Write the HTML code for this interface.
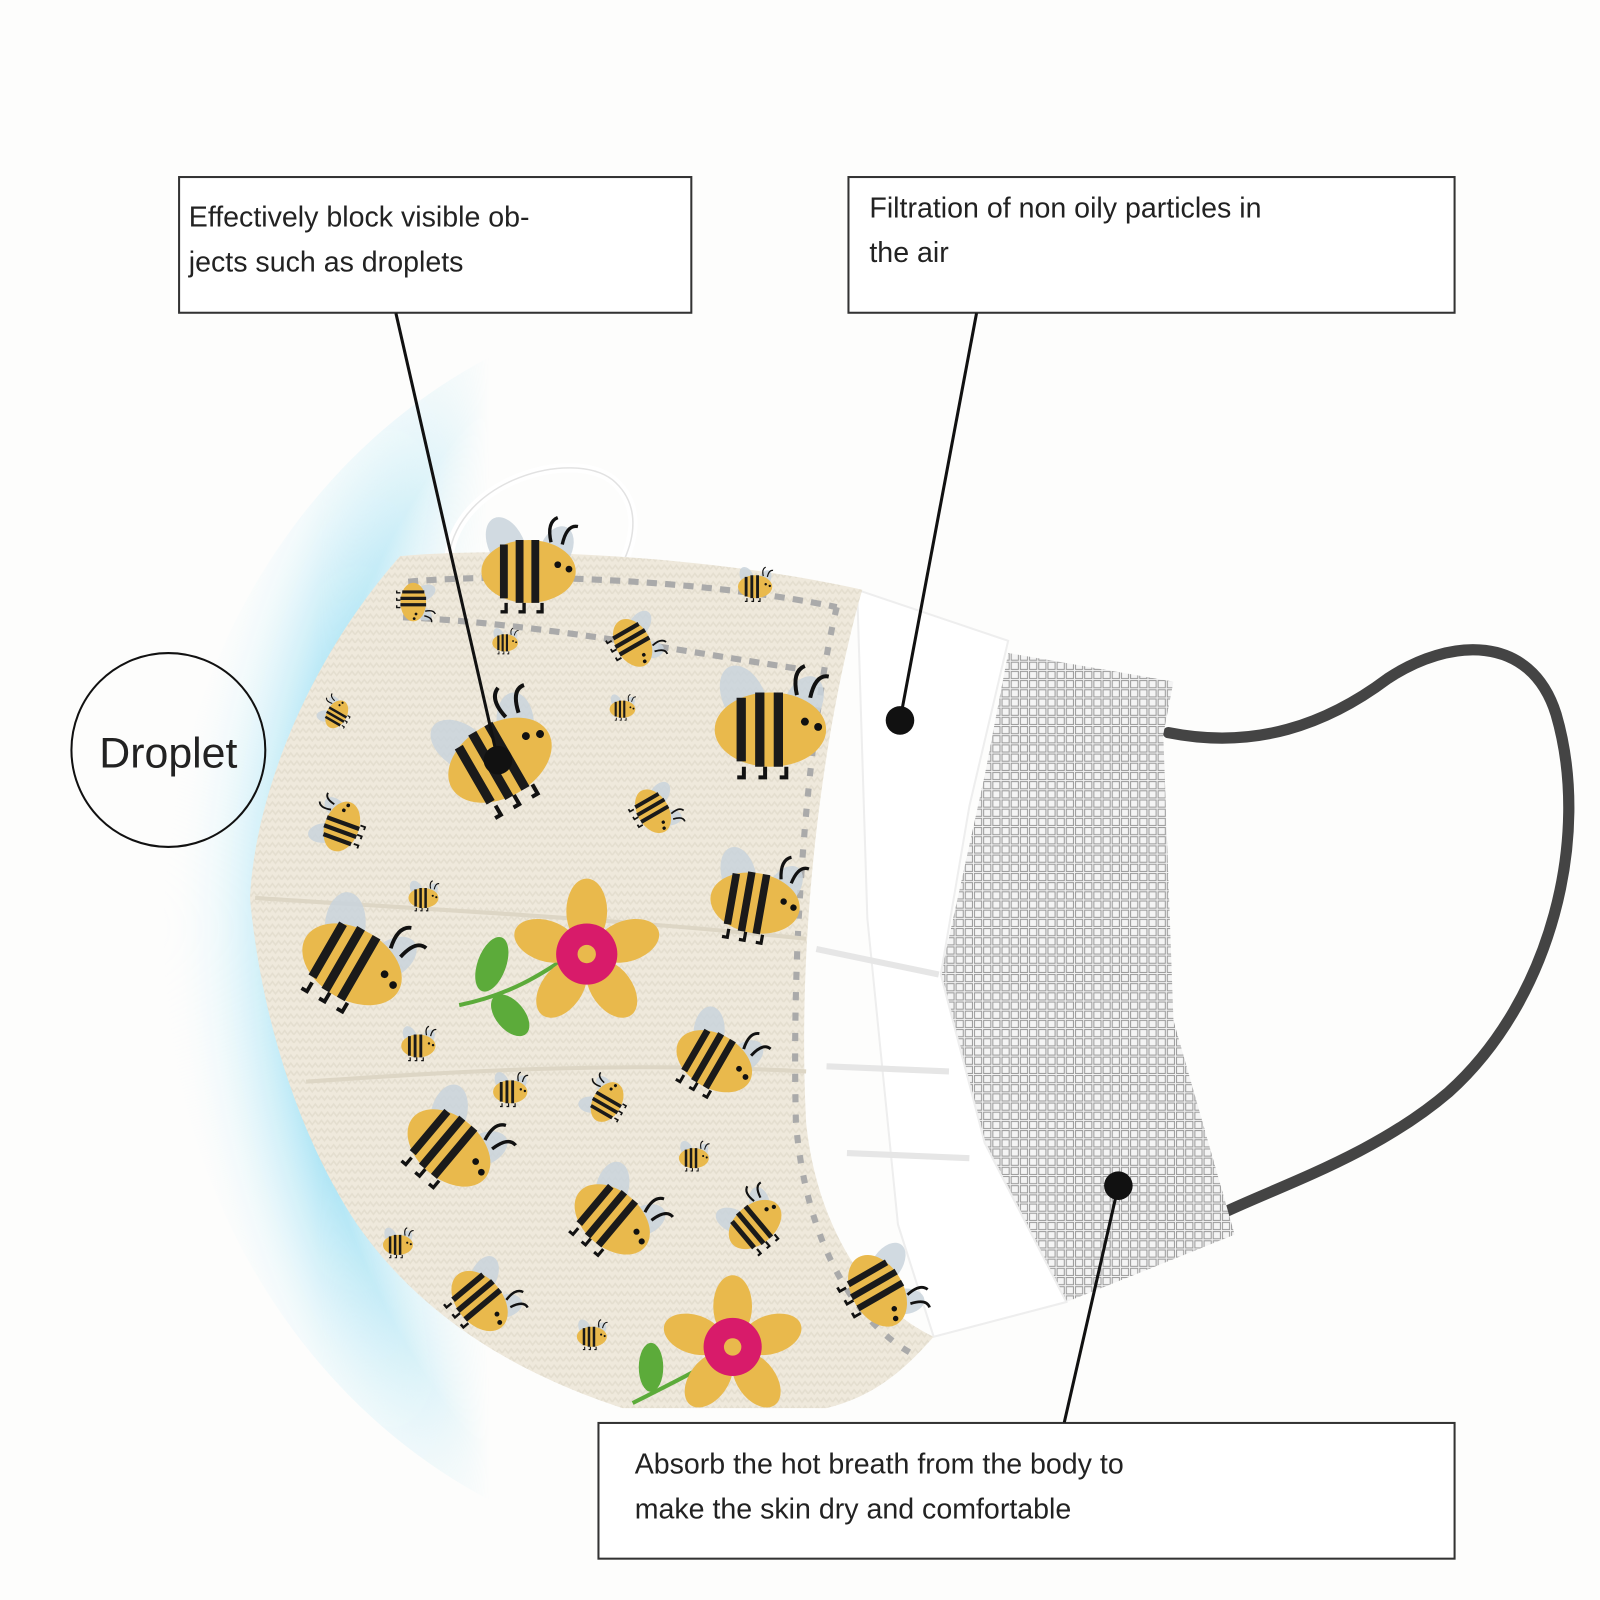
<!DOCTYPE html>
<html><head><style>
html,body{margin:0;padding:0;background:#fdfdfc;}
svg{display:block}
text{font-family:"Liberation Sans",sans-serif;fill:#222;}
</style></head><body>
<svg width="1600" height="1600" viewBox="0 0 1600 1600" xmlns="http://www.w3.org/2000/svg">
<defs>
<radialGradient id="glow" cx="0.72" cy="0.5" r="0.72">
<stop offset="0.6" stop-color="#ffffff" stop-opacity="0"/>
<stop offset="0.84" stop-color="#a9e3f4" stop-opacity="1"/>
<stop offset="1" stop-color="#ffffff" stop-opacity="0"/>
</radialGradient>
<linearGradient id="fadeX" x1="0" y1="0" x2="1" y2="0">
<stop offset="0" stop-color="#fff"/>
<stop offset="0.65" stop-color="#fff"/>
<stop offset="1" stop-color="#000"/>
</linearGradient>
<mask id="glowMask" maskUnits="userSpaceOnUse" x="0" y="0" width="1600" height="1600">
<rect x="0" y="0" width="480" height="1600" fill="url(#fadeX)"/>
</mask>
<pattern id="grid" width="9" height="9" patternUnits="userSpaceOnUse">
<rect width="9" height="9" fill="#f4f4f4"/>
<rect x="1" y="1" width="7" height="7" fill="none" stroke="#9a9a9a" stroke-width="1"/>
</pattern>
<pattern id="weave" width="12" height="8" patternUnits="userSpaceOnUse">
<rect width="12" height="8" fill="#efe9dc"/>
<path d="M0 6 L3 2 L6 6 L9 2 L12 6" fill="none" stroke="#e4decf" stroke-width="1.5"/>
</pattern>
<g id="bee">
<ellipse cx="-8" cy="-30" rx="16" ry="26" fill="#c9d3dc" opacity="0.85" transform="rotate(-25)"/>
<ellipse cx="14" cy="-28" rx="14" ry="22" fill="#c9d3dc" opacity="0.85" transform="rotate(25)"/>
<ellipse cx="0" cy="0" rx="42" ry="28" fill="#e9b94c"/>
<path d="M-22 -24 L-22 24 M-8 -28 L-8 28 M6 -28 L6 28" stroke="#1a1a1a" stroke-width="7"/>
<circle cx="26" cy="-6" r="3" fill="#111"/><circle cx="36" cy="-2" r="3" fill="#111"/>
<path d="M20 -26 q-4 -18 6 -22 M30 -24 q4 -18 14 -16" fill="none" stroke="#111" stroke-width="3"/>
<path d="M-20 28 v8 h-5 M-4 28 v8 h-5 M12 28 v8 h-5" fill="none" stroke="#111" stroke-width="3"/>
</g>
<g id="flower">
<g fill="#e9b94c">
<ellipse cx="0" cy="-42" rx="20" ry="32"/><ellipse cx="0" cy="-42" rx="20" ry="32" transform="rotate(72)"/>
<ellipse cx="0" cy="-42" rx="20" ry="32" transform="rotate(144)"/><ellipse cx="0" cy="-42" rx="20" ry="32" transform="rotate(216)"/>
<ellipse cx="0" cy="-42" rx="20" ry="32" transform="rotate(288)"/>
</g>
<circle r="30" fill="#d81b6a"/><circle r="9" fill="#e9b94c"/>
</g>
</defs>
<rect width="1600" height="1600" fill="#fdfdfc"/>
<g transform="scale(1.0204)">
<g mask="url(#glowMask)">
<ellipse cx="720" cy="910" rx="560" ry="620" fill="url(#glow)"/>
</g>

<path d="M440 545 C450 470 560 440 600 470 C630 495 620 530 612 548" fill="none" stroke="#fff" stroke-width="9"/>
<path d="M440 545 C450 470 560 440 600 470 C630 495 620 530 612 548" fill="none" stroke="#e2e2e2" stroke-width="1.5"/>

<path d="M1145 718 C1230 735 1300 710 1360 665 C1420 625 1500 620 1525 700 C1560 820 1520 980 1420 1070 C1350 1130 1260 1160 1200 1188" fill="none" stroke="#444" stroke-width="11" stroke-linecap="round"/>

<path d="M988 640 L1150 668 L1140 720 L1150 1000 L1210 1210 L1045 1276 L960 1120 L922 955 L965 760 Z" fill="url(#grid)"/>
<path d="M840 578 L988 628 L950 790 L922 955 L965 1120 L1045 1276 L915 1310 L880 1200 L850 900 Z" fill="#ffffff" stroke="#eee" stroke-width="2"/>
<path d="M800 930 L920 955 M810 1045 L930 1050 M830 1130 L950 1135" stroke="#e6e6e6" stroke-width="6"/>

<path d="M392 545 C500 535 700 545 845 578 C810 700 780 900 790 1100 C800 1200 850 1280 915 1310 C880 1350 850 1370 810 1380 L610 1380 C520 1350 420 1300 350 1200 C290 1110 255 990 245 880 C250 780 300 650 392 545 Z" fill="url(#weave)"/>
<path d="M400 570 C520 560 700 570 820 595" fill="none" stroke="#aaa" stroke-width="6" stroke-dasharray="10 8"/>
<path d="M395 605 C520 610 680 640 780 655" fill="none" stroke="#aaa" stroke-width="6" stroke-dasharray="10 8"/>
<path d="M820 595 C795 700 775 900 780 1100 C790 1220 840 1300 900 1330" fill="none" stroke="#aaa" stroke-width="6" stroke-dasharray="8 12"/>
<path d="M250 880 C400 890 600 900 790 920" fill="none" stroke="#ddd6c5" stroke-width="4"/>
<path d="M300 1060 C450 1050 600 1040 790 1050" fill="none" stroke="#ddd6c5" stroke-width="4"/>

<use href="#bee" transform="translate(518,560) scale(1.1)"/>
<use href="#bee" transform="translate(490,745) rotate(-30) scale(1.3)"/>
<use href="#bee" transform="translate(755,715) scale(1.3)"/>
<use href="#bee" transform="translate(620,630) rotate(60) scale(0.6)"/>
<use href="#bee" transform="translate(405,590) rotate(90) scale(0.45)"/>
<use href="#bee" transform="translate(740,575) scale(0.4)"/>
<use href="#bee" transform="translate(640,795) rotate(60) scale(0.55)"/>
<use href="#bee" transform="translate(335,810) rotate(-70) scale(0.6)"/>
<use href="#bee" transform="translate(740,885) rotate(10) scale(1.05)"/>
<use href="#bee" transform="translate(345,945) rotate(30) scale(1.25)"/>
<use href="#bee" transform="translate(700,1040) rotate(30) scale(0.95)"/>
<use href="#bee" transform="translate(440,1125) rotate(40) scale(1.1)"/>
<use href="#bee" transform="translate(600,1195) rotate(40) scale(1)"/>
<use href="#bee" transform="translate(470,1275) rotate(50) scale(0.8)"/>
<use href="#bee" transform="translate(740,1200) rotate(-40) scale(0.7)"/>
<use href="#bee" transform="translate(860,1265) rotate(60) scale(0.9)"/>
<use href="#bee" transform="translate(595,1080) rotate(-60) scale(0.5)"/>
<use href="#bee" transform="translate(500,1070) scale(0.4)"/>
<use href="#bee" transform="translate(410,1025) scale(0.4)"/>
<use href="#bee" transform="translate(415,880) scale(0.35)"/>
<use href="#bee" transform="translate(680,1135) scale(0.35)"/>
<use href="#bee" transform="translate(390,1220) scale(0.35)"/>
<use href="#bee" transform="translate(580,1310) scale(0.35)"/>
<use href="#bee" transform="translate(610,695) scale(0.3)"/>
<use href="#bee" transform="translate(495,630) scale(0.3)"/>
<use href="#bee" transform="translate(330,700) rotate(-60) scale(0.35)"/>

<path d="M450 985 C500 975 530 955 560 935" stroke="#5cab3a" stroke-width="4" fill="none"/>
<ellipse cx="482" cy="945" rx="14" ry="28" fill="#5cab3a" transform="rotate(20 482 945)"/>
<ellipse cx="500" cy="995" rx="14" ry="24" fill="#5cab3a" transform="rotate(-40 500 995)"/>
<use href="#flower" transform="translate(575,935)"/>
<path d="M620 1375 C650 1360 680 1345 705 1330" stroke="#5cab3a" stroke-width="4" fill="none"/>
<ellipse cx="638" cy="1340" rx="12" ry="24" fill="#5cab3a"/>
<use href="#flower" transform="translate(718,1320) scale(0.95)"/>

<circle cx="165" cy="735" r="95" fill="none" stroke="#111" stroke-width="2"/>
<text x="165" y="752" text-anchor="middle" font-size="42">Droplet</text>

<rect x="175.5" y="173.5" width="502" height="133" fill="#fff" stroke="#333" stroke-width="2"/>
<text x="185" y="222" font-size="28">Effectively block visible ob-</text>
<text x="185" y="266" font-size="28">jects such as droplets</text>
<rect x="831.5" y="173.5" width="594" height="133" fill="#fff" stroke="#333" stroke-width="2"/>
<text x="852" y="213" font-size="28">Filtration of non oily particles in</text>
<text x="852" y="257" font-size="28">the air</text>
<rect x="586.5" y="1394.5" width="839" height="133" fill="#fff" stroke="#333" stroke-width="2"/>
<text x="622" y="1444" font-size="28">Absorb the hot breath from the body to</text>
<text x="622" y="1488" font-size="28">make the skin dry and comfortable</text>

<line x1="388" y1="307" x2="488" y2="745" stroke="#111" stroke-width="3"/>
<circle cx="488" cy="745" r="14" fill="#111"/>
<line x1="957" y1="307" x2="882" y2="706" stroke="#111" stroke-width="3"/>
<circle cx="882" cy="706" r="14" fill="#111"/>
<line x1="1096" y1="1162" x2="1043" y2="1394" stroke="#111" stroke-width="3"/>
<circle cx="1096" cy="1162" r="14" fill="#111"/>
</g>
</svg>
</body></html>
